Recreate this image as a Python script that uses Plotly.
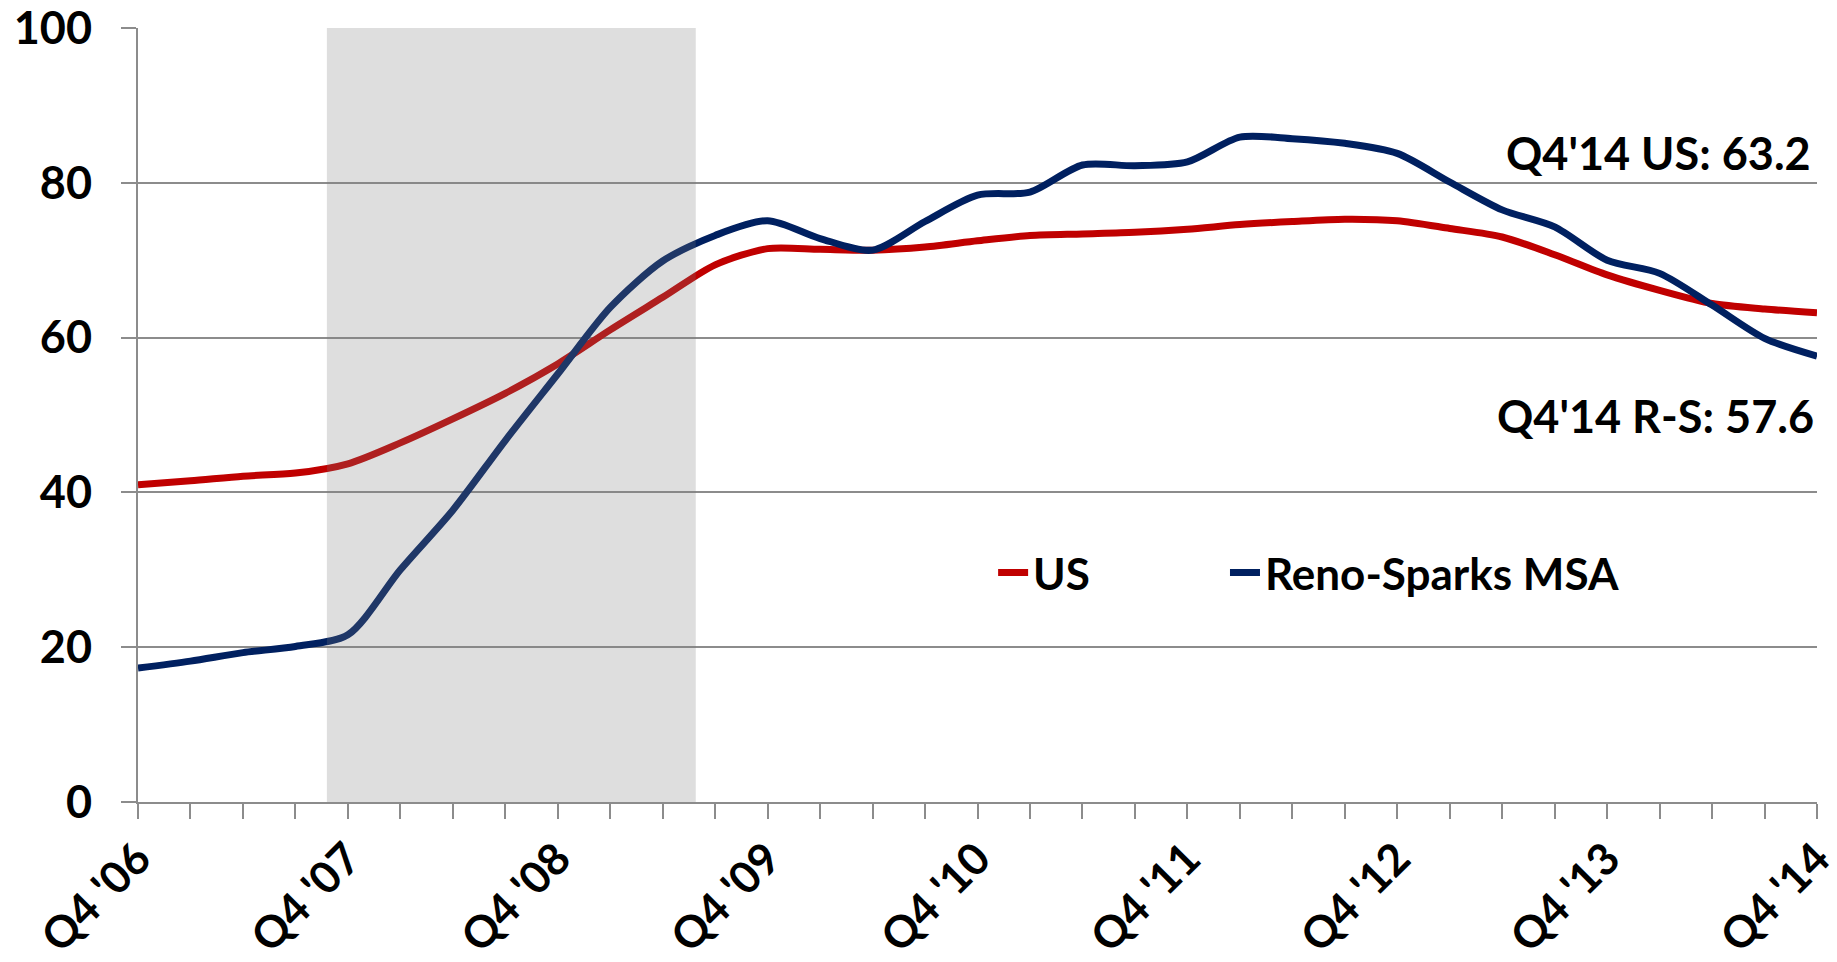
import plotly.graph_objects as go

# ---- data ----
year_labels = ["Q4 '06", "Q4 '07", "Q4 '08", "Q4 '09", "Q4 '10", "Q4 '11", "Q4 '12", "Q4 '13", "Q4 '14"]
quarter_index = list(range(33))  # Q4'06 ... Q4'14, quarterly
us = [41.0, 41.5, 42.1, 42.5, 43.7, 46.4, 49.5, 52.8, 56.6, 61.0, 65.2,
      69.4, 71.5, 71.4, 71.3, 71.7, 72.5, 73.2, 73.4, 73.6, 74.0,
      74.6, 75.0, 75.3, 75.1, 74.1, 73.0, 70.7, 68.1, 66.1, 64.4, 63.7, 63.2]
reno = [17.3, 18.2, 19.3, 20.1, 21.6, 30.0, 37.7, 46.7, 55.3, 63.9, 69.9,
        73.2, 75.1, 72.8, 71.3, 75.0, 78.4, 78.8, 82.3, 82.2, 82.7,
        85.9, 85.7, 85.1, 83.8, 80.1, 76.5, 74.3, 70.0, 68.3, 64.2, 59.9, 57.6]
recession = [3.6, 10.63]  # quarter-index span of the shaded recession
y_ticks = [0, 20, 40, 60, 80, 100]

FONT = "Lato"
RED = "#c00000"
NAVY = "#002060"
GRID = "#8c8c8c"
BODY = 8  # default page margin of the html body

fig = go.Figure()
fig.add_trace(go.Scatter(x=quarter_index, y=us, mode="lines", name="US", legend="legend",
                         line=dict(color=RED, width=7, shape="spline", smoothing=0.8)))
fig.add_trace(go.Scatter(x=quarter_index, y=reno, mode="lines", name="Reno-Sparks MSA", legend="legend2",
                         line=dict(color=NAVY, width=7, shape="spline", smoothing=0.8)))

fig.add_shape(type="rect", xref="x", yref="y", x0=recession[0], x1=recession[1], y0=0, y1=100,
              fillcolor="rgba(124,124,124,0.25)", line=dict(width=0), layer="above")

tickvals = quarter_index
ticktext = [year_labels[i // 4] if i % 4 == 0 else "" for i in quarter_index]

legend_font = dict(family=FONT, size=44, color="black", weight="bold")

fig.update_layout(
    width=1837 - BODY, height=962 - BODY,
    margin=dict(l=138 - BODY, r=20, t=28 - BODY, b=160, autoexpand=False),
    plot_bgcolor="white", paper_bgcolor="white",
    font=dict(family=FONT, size=44, color="black", weight="bold"),
    showlegend=True,
    legend=dict(orientation="h", x=0.5093, xanchor="left", y=0.296, yanchor="middle",
                font=legend_font, bgcolor="rgba(0,0,0,0)"),
    legend2=dict(orientation="h", x=0.6474, xanchor="left", y=0.296, yanchor="middle",
                 font=legend_font, bgcolor="rgba(0,0,0,0)"),
    xaxis=dict(range=[0, 32], tickvals=tickvals, ticktext=ticktext, tickangle=-45,
               automargin=False, ticklabeloverflow="allow",
               showgrid=False, zeroline=False, showline=True, linecolor=GRID, linewidth=2,
               ticks="outside", ticklen=15, tickcolor=GRID, tickwidth=2,
               ticklabelshift=0, ticklabelstandoff=-4,
               tickfont=dict(family=FONT, size=44, color="black", weight="bold")),
    yaxis=dict(range=[0, 100], tickvals=y_ticks, showgrid=True, gridcolor=GRID, gridwidth=1.5,
               automargin=False, ticklabeloverflow="allow",
               zeroline=False, showline=True, linecolor=GRID, linewidth=2,
               ticks="outside", ticklen=15, tickcolor=GRID, tickwidth=1.5,
               ticklabelstandoff=20,
               tickfont=dict(family=FONT, size=45, color="black", weight="bold")),
    annotations=[
        dict(text="Q4'14 US: 63.2", x=1, xref="paper", xanchor="right", xshift=-4,
             y=83.8, yref="y", yanchor="middle", showarrow=False,
             font=dict(family=FONT, size=45, color="black", weight="bold")),
        dict(text="Q4'14 R-S: 57.6", x=1, xref="paper", xanchor="right", xshift=-1,
             y=49.9, yref="y", yanchor="middle", showarrow=False,
             font=dict(family=FONT, size=45, color="black", weight="bold")),
    ],
)

fig.write_html("out.html")
